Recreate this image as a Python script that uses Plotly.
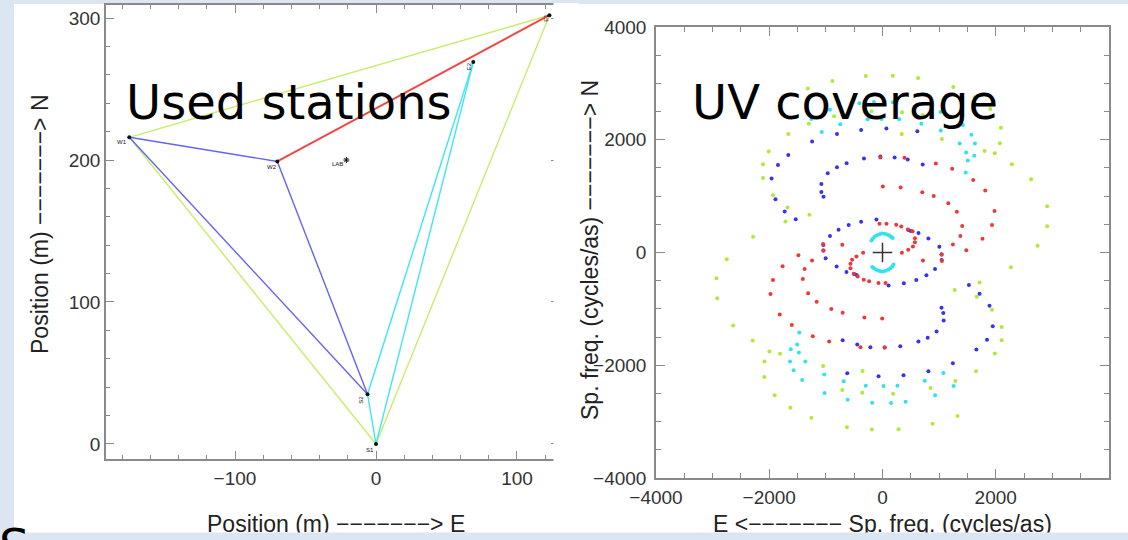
import plotly.graph_objects as go

# ---------------- station layout (metres, E / N) ----------------
station_names = ["S1", "S2", "E1", "E2", "W1", "W2"]
station_east = [0, -6, 123, 69, -175, -70]
station_north = [0, 35, 302, 269, 216, 199]
lab_east = [-21]
lab_north = [200]

green_baselines = [("W1", "E1"), ("W1", "S1"), ("S1", "E1")]
blue_baselines = [("W1", "W2"), ("W1", "S2"), ("W2", "S2")]
cyan_baselines = [("E2", "S2"), ("E2", "S1"), ("S2", "S1")]
red_baselines = [("W2", "E1")]

# ---------------- UV coverage (cycles/as) ----------------
u_green = [-2933, -2920, -2638, -2292, -1997, -1809, -2085, -2085, -1903, -1627, -1256, -628, -188, 283, 885, 1325,
           -1049, -710, -352, -358, 188, 848, 1287, 1652, 1275, 1714, 1664, 1934, 2104, 2104, 1984, 2267, -2750,
           2908, 2908, 2625, 2286, 1984, 1802, 2072, 2091, 1903, 1627, 1250, 628, 182, -295, -885, -1319,
           1049, 710, 340, 345, -195, -854, -1300, -1664, -1290, -1714, -1677, -1934, -2110, -2110, -2010, -2286, 2738]
v_green = [-457, -813, -1294, -1561, -1757, -1798, -1935, -2208, -2534, -2754, -2932, -3098, -3140, -3134, -3039, -2902,
           -2012, -2439, -2101, -2487, -2505, -2404, -2279, -2107, -665, -534, -783, -1015, -1323, -1555, -1792, -261, -120,
           467, 821, 1300, 1566, 1761, 1802, 1938, 2215, 2546, 2754, 2936, 3096, 3137, 3131, 3043, 2907,
           2012, 2439, 2103, 2487, 2505, 2416, 2286, 2103, 670, 549, 798, 1016, 1323, 1566, 1790, 278, 118]

u_cyan = [-1470, -1507, -1620, -1476, -1633, -1363, -1570, -1419, -1030, -1024, -685, -615, -295, -182, 19, 151, 264,
          408, 747, 929, 1074, 1256,
          1470, 1507, 1620, 1476, 1633, 1363, 1570, 1419, 1030, 1024, 685, 615, 295, 182, -19, -151, -264,
          -408, -747, -929, -1074, -1256,
          -195, -170, -140, -100, -55, -10, 35, 80, 120, 155, 180,
          195, 170, 140, 100, 55, 10, -35, -80, -120, -155, -180]
v_cyan = [-1418, -1632, -1715, -1775, -1935, -1935, -2089, -2261, -2166, -2493, -2285, -2611, -2362, -2665, -2368,
          -2671, -2362, -2647, -2273, -2534, -2137, -2368,
          1418, 1632, 1715, 1775, 1935, 1935, 2089, 2261, 2166, 2493, 2285, 2611, 2362, 2665, 2368,
          2671, 2362, 2647, 2273, 2534, 2137, 2368,
          215, 250, 280, 305, 325, 335, 333, 320, 300, 275, 255,
          -215, -250, -280, -305, -325, -335, -333, -320, -300, -275, -255]

u_blue = [-1243, -804, -377, 69, 615, -1664, -1846, -1959, -1890, -1727, -1532,
          1243, 810, 371, -69, -622, 1658, 1846, 1947, 1890, 1714, 1526,
          -967, -804, -634, -327, -38, 214, 446, 710, -1080, -1080, -1042,
          955, 798, 634, 314, 38, -214, -446, -703, 1080, 1074, 1042,
          -107, -377, -597, -776, -928, -1044, -1043, -1004,
          107, 377, 597, 776, 928, 1044, 1043, 1004,
          -810, -636, -500, -456, 810, 636, 500, 456]
v_blue = [1967, 2103, 2174, 2198, 2150, 1731, 1554, 1312, 945, 727, 591,
          -1964, -2107, -2178, -2196, -2142, -1721, -1549, -1306, -944, -730, -576,
          1406, 1512, 1583, 1666, 1702, 1684, 1648, 1560, 1217, 1075, 987,
          -1401, -1513, -1579, -1662, -1686, -1680, -1632, -1555, -1205, -1074, -979,
          585, 545, 488, 405, 292, 133, 33, -103,
          -585, -545, -488, -405, -292, -133, -33, 103,
          -250, -345, -380, -400, 250, 345, 380, 400]

u_red = [-1765, -1934, -1978, -1815, -1601, -1231, -942, -389, 38,
         1765, 1934, 1978, 1815, 1601, 1231, 942, 389, -38,
         -1375, -1407, -1313, -1162, -904, -703, -320, -6,
         1375, 1407, 1313, 1162, 904, 703, 320, 6,
         -1244, 1244, 1480, -1485, -710, 714, -1050, -1045, 1050, 1045,
         -53, 71, 242, 331, 448, 531, 572, 572, 537, 454, 342,
         -342, -460, -537, -566, -566, -508, -437, -331, -236, -71, 53]
v_red = [-243, -487, -736, -1098, -1288, -1484, -1579, -1680, -1686,
         243, 487, 736, 1098, 1288, 1484, 1579, 1680, 1686,
         -291, -469, -724, -872, -1003, -1068, -1151, -1169,
         291, 469, 724, 872, 1003, 1068, 1151, 1169,
         -142, 142, 40, -50, 137, -142, 150, 40, -150, -40,
         510, 510, 492, 462, 409, 379, 254, 183, 107, 47, -5,
         -5, -71, -130, -201, -279, -379, -427, -485, -510, -539, -539]

# ---------------- page geometry helpers (pixels -> paper) ----------------
W, H = 1128, 540


def px(x):
    return x / W


def py(y):
    return 1 - y / H


PAGE_BG = "#dbe6f2"
AXIS_C = "#8a8a8a"
TICK_FONT = dict(family="Liberation Sans, Arial, sans-serif", size=19, color="#333333")
TITLE_FONT = dict(family="Liberation Sans, Arial, sans-serif", size=23, color="#222222")
SLIDE_FONT = dict(family="DejaVu Sans, sans-serif", size=48, color="#000000")

COL_GREEN_LINE = "#c6ee6c"
COL_BLUE_LINE = "#6464f2"
COL_CYAN_LINE = "#3ee6f2"
COL_RED_LINE = "#f24646"

COL_GREEN = "#aeea36"
COL_CYAN = "#2fe2ee"
COL_BLUE = "#3434ee"
COL_RED = "#ee3838"

pos = {n: (e, nn) for n, e, nn in zip(station_names, station_east, station_north)}


def segments(pairs):
    xs, ys = [], []
    for a, b in pairs:
        xs += [pos[a][0], pos[b][0], None]
        ys += [pos[a][1], pos[b][1], None]
    return xs, ys


fig = go.Figure()

# baselines between stations
for pairs, col, wid in [(green_baselines, COL_GREEN_LINE, 1.4),
                        (blue_baselines, COL_BLUE_LINE, 1.4),
                        (cyan_baselines, COL_CYAN_LINE, 1.4),
                        (red_baselines, COL_RED_LINE, 2.0)]:
    xs, ys = segments(pairs)
    fig.add_trace(go.Scatter(x=xs, y=ys, mode="lines", line=dict(color=col, width=wid),
                             xaxis="x", yaxis="y", hoverinfo="skip", showlegend=False))

# station markers
fig.add_trace(go.Scatter(x=station_east, y=station_north, mode="markers",
                         marker=dict(color="#111111", size=4),
                         xaxis="x", yaxis="y", hoverinfo="skip", showlegend=False))
fig.add_trace(go.Scatter(x=lab_east, y=lab_north, mode="markers",
                         marker=dict(color="#111111", size=5, symbol="asterisk-open", line=dict(width=1)),
                         xaxis="x", yaxis="y", hoverinfo="skip", showlegend=False))

# UV points
for u, v, col in [(u_green, v_green, COL_GREEN), (u_cyan, v_cyan, COL_CYAN),
                  (u_blue, v_blue, COL_BLUE), (u_red, v_red, COL_RED)]:
    fig.add_trace(go.Scatter(x=u, y=v, mode="markers", marker=dict(color=col, size=4, line=dict(width=0)),
                             xaxis="x2", yaxis="y2", hoverinfo="skip", showlegend=False))

# origin cross
fig.add_trace(go.Scatter(x=[0], y=[0], mode="markers",
                         marker=dict(symbol="cross-thin", size=14, line=dict(color="#333333", width=1.5)),
                         xaxis="x2", yaxis="y2", hoverinfo="skip", showlegend=False))


def axis_style(dtick, minor_dtick, major_len, minor_len):
    return dict(showline=True, linecolor=AXIS_C, linewidth=1.5, mirror="ticks",
                ticks="inside", ticklen=major_len, tickwidth=1.2, tickcolor=AXIS_C,
                dtick=dtick, tick0=0,
                minor=dict(dtick=minor_dtick, tick0=0, ticks="inside", ticklen=minor_len,
                           tickwidth=1.2, tickcolor=AXIS_C),
                showgrid=False, zeroline=False, tickfont=TICK_FONT, fixedrange=True,
                automargin=False)


xa = axis_style(100, 20, 8, 4)
xa.update(domain=[px(106), px(559)], range=[-191.5, 129.8], anchor="y", ticklabelstandoff=1)
ya = axis_style(100, 20, 8, 4)
ya.update(domain=[py(459), py(5)], range=[-10.6, 309.2], anchor="x", ticklabelstandoff=0)
xa2 = axis_style(2000, 500, 9, 5)
xa2.update(domain=[px(656), px(1109)], range=[-4000, 4000], anchor="y2", ticklabelstandoff=1)
ya2 = axis_style(2000, 500, 9, 5)
ya2.update(domain=[py(478), py(27)], range=[-4000, 4000], anchor="x2", ticklabelstandoff=4)

shapes = [
    # white slide panel behind both plots
    dict(type="rect", xref="paper", yref="paper", x0=px(14), x1=1, y0=py(534), y1=py(4),
         fillcolor="white", line=dict(width=0), layer="below"),
    # the station plot is cut on its east side
    dict(type="rect", xref="paper", yref="paper", x0=px(553.5), x1=px(578), y0=py(472), y1=py(3),
         fillcolor="white", line=dict(width=0), layer="above"),
]

annotations = []


def station_label(name, dx, dy, angle=0):
    e, n = pos[name]
    annotations.append(dict(x=e, y=n, xref="x", yref="y", text=name, showarrow=False,
                            xshift=dx, yshift=dy, textangle=angle,
                            font=dict(family="Liberation Sans, Arial, sans-serif", size=6, color="#111111")))


station_label("W1", -7, -5)
station_label("W2", -5, -6)
station_label("E2", -4, -4, -90)
station_label("E1", -3, -2, -90)
station_label("S2", -6, -6, -90)
station_label("S1", -6, -6)
annotations.append(dict(x=lab_east[0], y=lab_north[0], xref="x", yref="y", text="LAB", showarrow=False,
                        xshift=-9, yshift=-4,
                        font=dict(family="Liberation Sans, Arial, sans-serif", size=6, color="#111111")))

# axis titles
annotations += [
    dict(x=px(40), y=py(224), xref="paper", yref="paper", text="Position (m) −−−−−−−> N",
         textangle=-90, showarrow=False, font=TITLE_FONT, xanchor="center", yanchor="middle"),
    dict(x=px(336), y=py(524), xref="paper", yref="paper", text="Position (m) −−−−−−−> E",
         showarrow=False, font=TITLE_FONT, xanchor="center", yanchor="middle"),
    dict(x=px(590), y=py(250), xref="paper", yref="paper", text="Sp. freq. (cycles/as) −−−−−−−> N",
         textangle=-90, showarrow=False, font=TITLE_FONT, xanchor="center", yanchor="middle"),
    dict(x=px(882), y=py(524), xref="paper", yref="paper", text="E <−−−−−−− Sp. freq. (cycles/as)",
         showarrow=False, font=TITLE_FONT, xanchor="center", yanchor="middle"),
]

# bottom strip of the page background
annotations.append(dict(x=0, y=0, xref="paper", yref="paper", xanchor="left", yanchor="bottom",
                        text=" ", showarrow=False, width=W, height=6, bgcolor=PAGE_BG, borderpad=0))

# slide headings
annotations += [
    dict(x=px(124), y=py(72), xref="paper", yref="paper", text="Used stations", showarrow=False,
         xanchor="left", yanchor="top", font=SLIDE_FONT),
    dict(x=px(690), y=py(72), xref="paper", yref="paper", text="UV coverage", showarrow=False,
         xanchor="left", yanchor="top", font=SLIDE_FONT),
    dict(x=px(-3), y=py(516), xref="paper", yref="paper", text="S", showarrow=False,
         xanchor="left", yanchor="top", font=SLIDE_FONT),
]

fig.update_layout(
    width=W, height=H, autosize=False,
    margin=dict(l=0, r=0, t=0, b=0, autoexpand=False),
    paper_bgcolor=PAGE_BG, plot_bgcolor="white",
    xaxis=xa, yaxis=ya, xaxis2=xa2, yaxis2=ya2,
    shapes=shapes, annotations=annotations,
    showlegend=False,
)

fig.write_html("out.html", config={"displayModeBar": False})
